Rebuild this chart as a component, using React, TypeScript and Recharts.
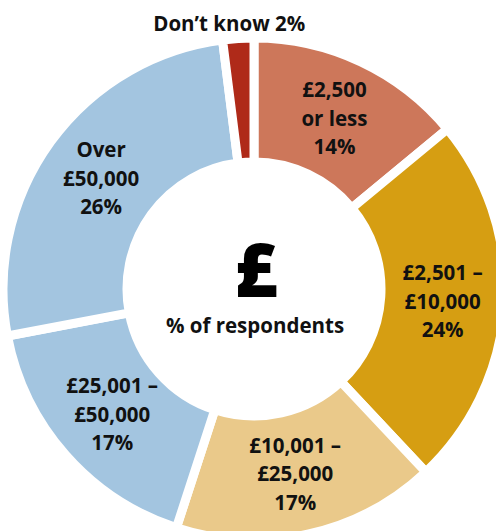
import { Cell, Pie, PieChart } from "recharts";

const categories = [
  ["£2,500", "or less"],
  ["£2,501 –", "£10,000"],
  ["£10,001 –", "£25,000"],
  ["£25,001 –", "£50,000"],
  ["Over", "£50,000"],
  ["Don’t know"],
];
const shares = [14, 24, 17, 17, 26, 2];
const colors = ["#CD775A", "#D69E12", "#EAC98A", "#A3C5E0", "#A3C5E0", "#AF2A19"];

const chartData = categories.map((lines, i) => ({
  name: lines.join(" "),
  lines,
  value: shares[i],
}));

const RADIAN = Math.PI / 180;
const FONT = "'Open Sans', 'Noto Sans', sans-serif";
const LINE = 28.5;
const CX = 254;
const CY = 289;

const renderLabel = (props: any) => {
  const { cx, cy, midAngle, innerRadius, outerRadius, index } = props;
  const lines: string[] = chartData[index].lines;
  const pct = `${chartData[index].value}%`;
  // the tiny "don't know" slice is labelled outside the ring
  if (lines.length === 1) {
    const r = outerRadius + 16;
    const x = cx + r * Math.cos(-midAngle * RADIAN) - 8;
    const y = cy + r * Math.sin(-midAngle * RADIAN);
    return (
      <text x={x} y={y} textAnchor="middle" dominantBaseline="central" fill="#111" fontFamily={FONT} fontWeight={700} fontSize={20.5}>
        {`${lines[0]} ${pct}`}
      </text>
    );
  }
  const r = (innerRadius + outerRadius) / 2;
  const x = cx + r * Math.cos(-midAngle * RADIAN);
  const y = cy + r * Math.sin(-midAngle * RADIAN);
  const all = [...lines, pct];
  const top = y - ((all.length - 1) * LINE) / 2;
  return (
    <text textAnchor="middle" dominantBaseline="central" fill="#111" fontFamily={FONT} fontWeight={700} fontSize={20.5}>
      {all.map((t, i) => (
        <tspan key={i} x={x} y={top + i * LINE}>
          {t}
        </tspan>
      ))}
    </text>
  );
};

export default function App() {
  return (
    <div style={{ position: "absolute", left: 0, top: 0, width: 496, height: 531, background: "#fff", overflow: "hidden" }}>
      <PieChart width={496} height={531} margin={{ top: 0, right: 0, bottom: 0, left: 0 }}>
        <Pie
          data={chartData}
          dataKey="value"
          nameKey="name"
          cx={CX}
          cy={CY}
          innerRadius={127}
          outerRadius={251}
          startAngle={90}
          endAngle={-270}
          stroke="#fff"
          strokeWidth={9}
          label={renderLabel}
          labelLine={false}
          isAnimationActive={false}
        >
          {chartData.map((d, i) => (
            <Cell key={d.name} fill={colors[i]} />
          ))}
        </Pie>
      </PieChart>
      <svg width={496} height={531} style={{ position: "absolute", left: 0, top: 0, pointerEvents: "none" }}>
        <text x={CX + 2} y={CY + 8} textAnchor="middle" fill="#000" fontFamily={FONT} fontWeight={800} fontSize={74}>
          £
        </text>
        <text x={CX + 1} y={CY + 36} textAnchor="middle" dominantBaseline="central" fill="#111" fontFamily={FONT} fontWeight={700} fontSize={20.5}>
          % of respondents
        </text>
      </svg>
    </div>
  );
}
